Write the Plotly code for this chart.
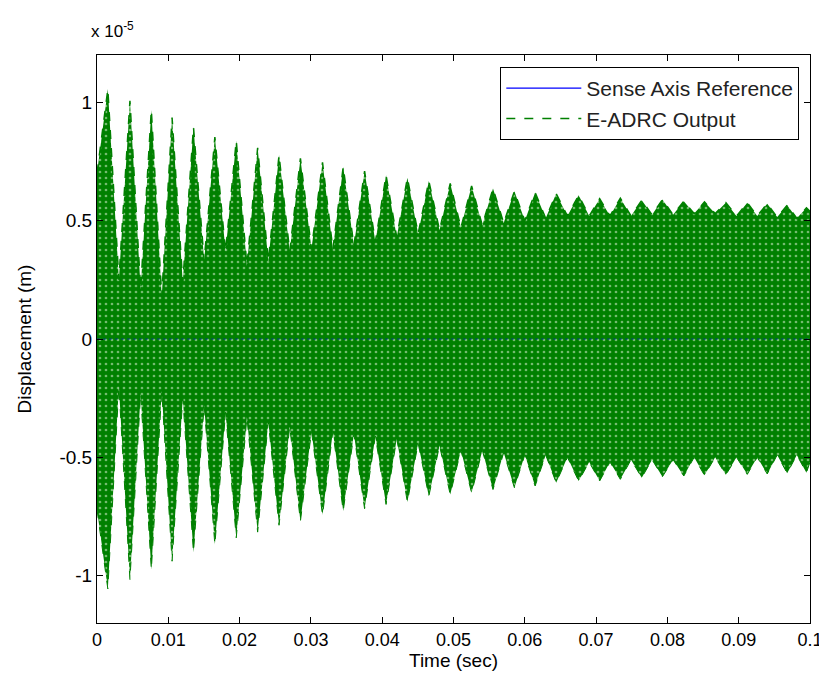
import plotly.graph_objects as go

# Time (s) of the beat peaks
peak_t = [0.00152, 0.00462, 0.00762, 0.01053, 0.01353, 0.01653, 0.01953, 0.02253,
          0.02553, 0.02853, 0.03163, 0.03453, 0.03753, 0.04054, 0.04353, 0.04654,
          0.04954, 0.05254, 0.05554, 0.05854, 0.06145, 0.06440, 0.06755, 0.0705,
          0.0734, 0.0764, 0.0793, 0.0823, 0.0852, 0.0882, 0.0912, 0.0940, 0.0968, 0.0995]
# Upper / lower peak displacement (x 1e-5 m)
upper_peak = [1.056, 1.007, 0.968, 0.936, 0.896, 0.853, 0.838, 0.808, 0.777, 0.763, 0.746,
              0.727, 0.709, 0.692, 0.681, 0.668, 0.657, 0.647, 0.636, 0.624, 0.619, 0.614, 0.607,
              0.593, 0.595, 0.586, 0.589, 0.582, 0.579, 0.576, 0.576, 0.572, 0.565, 0.554]
lower_peak = [-1.056, -1.017, -0.975, -0.939, -0.901, -0.869, -0.840, -0.816, -0.787, -0.770, -0.744,
              -0.727, -0.717, -0.699, -0.689, -0.664, -0.657, -0.650, -0.636, -0.628, -0.621, -0.607, -0.600,
              -0.600, -0.593, -0.586, -0.582, -0.579, -0.576, -0.574, -0.572, -0.570, -0.567, -0.565]
# Time (s) of the troughs between beat peaks
valley_t = [0.00307, 0.00612, 0.00908, 0.01203, 0.01503, 0.01803, 0.02103, 0.02403, 0.02703,
            0.03008, 0.03308, 0.03603, 0.03904, 0.04204, 0.04504, 0.04804, 0.05104, 0.05404,
            0.05704, 0.06000, 0.06293, 0.06598, 0.06903, 0.07195, 0.0749, 0.07785, 0.0808,
            0.08375, 0.0867, 0.0897, 0.0926, 0.0954, 0.09815]
upper_valley = [0.25, 0.21, 0.18, 0.24, 0.33, 0.37, 0.31, 0.33, 0.37, 0.38, 0.38,
                0.395, 0.41, 0.43, 0.445, 0.46, 0.47, 0.48, 0.49, 0.50, 0.51, 0.52,
                0.52, 0.52, 0.52, 0.525, 0.525, 0.53, 0.53, 0.52, 0.52, 0.515, 0.51]
lower_valley = [-0.20, -0.23, -0.22, -0.25, -0.28, -0.31, -0.33, -0.35, -0.37, -0.39, -0.39,
                -0.40, -0.41, -0.42, -0.44, -0.45, -0.47, -0.47, -0.48, -0.49, -0.49, -0.50,
                -0.52, -0.52, -0.51, -0.51, -0.51, -0.50, -0.50, -0.50, -0.50, -0.49, -0.49]
# envelope at the two ends of the record
start_t, end_t = 0.0, 0.1
upper_ends = [0.70, 0.54]
lower_ends = [-0.72, -0.52]

# Sense axis reference
ref_t = [0.0, 0.1]
ref_y = [0.0, 0.0]

x_ticks = [0, 0.01, 0.02, 0.03, 0.04, 0.05, 0.06, 0.07, 0.08, 0.09, 0.1]
x_ticktext = ["0", "0.01", "0.02", "0.03", "0.04", "0.05", "0.06", "0.07", "0.08", "0.09", "0.1"]
y_ticks = [-1, -0.5, 0, 0.5, 1]
y_ticktext = ["-1", "-0.5", "0", "0.5", "1"]


def merge(ends, peaks, valleys):
    tt, vv = [start_t], [ends[0]]
    for i in range(len(peaks)):
        tt.append(peak_t[i]); vv.append(peaks[i])
        if i < len(valleys):
            tt.append(valley_t[i]); vv.append(valleys[i])
    tt.append(end_t); vv.append(ends[1])
    return tt, vv


ut, uv = merge(upper_ends, upper_peak, upper_valley)
lt, lv = merge(lower_ends, lower_peak, lower_valley)

GREEN = "#008000"
BLUE = "#0000FF"
FONT = "Liberation Sans, Arial, Helvetica, sans-serif"

fig = go.Figure()
fig.add_trace(go.Scatter(x=ref_t, y=ref_y, mode="lines", name="Sense Axis Reference",
                         line=dict(color=BLUE, width=1.2), legendrank=1))
fig.add_trace(go.Scatter(x=ut, y=uv, mode="lines", name="E-ADRC Output",
                         line=dict(color=GREEN, width=1.5, dash="dash"), legendrank=2))
fig.add_trace(go.Scatter(x=lt, y=lv, mode="lines", showlegend=False, fill="tonexty",
                         fillcolor=GREEN,
                         fillpattern=dict(shape=".", bgcolor=GREEN, fgcolor="#e8f5e0",
                                          size=6, solidity=0.16),
                         line=dict(color=GREEN, width=1, dash="dash")))
# reference line glimpsed through the gaps of the dense output
fig.add_trace(go.Scatter(x=ref_t, y=ref_y, mode="lines", showlegend=False,
                         line=dict(color=BLUE, width=1, dash="dot"), opacity=0.5))

axis_common = dict(showline=True, linecolor="black", linewidth=1, mirror="ticks",
                   ticks="inside", ticklen=6, tickcolor="black", showgrid=False,
                   zeroline=False)

fig.update_layout(
    width=827, height=677,
    margin=dict(l=89, r=16, t=47, b=62),
    paper_bgcolor="white", plot_bgcolor="white",
    font=dict(family=FONT, color="black"),
    xaxis=dict(range=[0, 0.1], tickvals=x_ticks, ticktext=x_ticktext,
               tickfont=dict(family=FONT, size=18, color="black"),
               title=dict(text="Time (sec)", font=dict(family=FONT, size=19), standoff=4),
               **axis_common),
    yaxis=dict(range=[-1.2, 1.2], tickvals=y_ticks, ticktext=y_ticktext,
               tickfont=dict(family=FONT, size=19, color="black"),
               title=dict(text="Displacement (m)", font=dict(family=FONT, size=19), standoff=22),
               **axis_common),
    legend=dict(x=0.985, y=0.979, xanchor="right", yanchor="top", traceorder="normal",
                bgcolor="white", bordercolor="black", borderwidth=1,
                font=dict(family=FONT, size=21, color="#222222"),
                tracegroupgap=0, itemwidth=75),
    annotations=[dict(text="x 10<sup>-5</sup>", x=0, y=1, xref="paper", yref="paper",
                      xanchor="left", yanchor="bottom", yshift=12, xshift=-8, showarrow=False,
                      font=dict(family=FONT, size=17, color="black"))],
)

fig.write_html("out.html")
